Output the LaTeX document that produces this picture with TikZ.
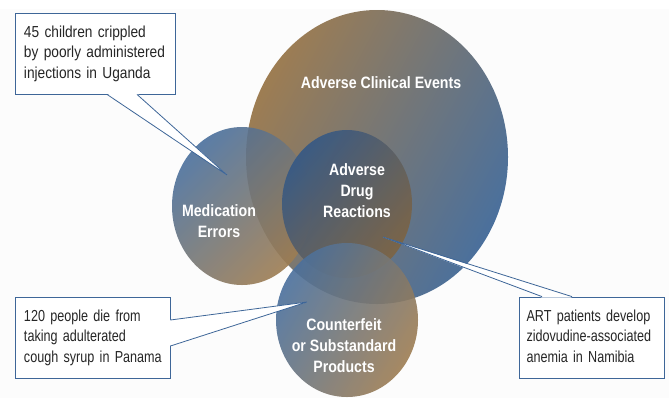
\documentclass[tikz,border=0pt]{standalone}
\usepackage{fontspec}
\setmainfont[FakeStretch=0.86]{Liberation Sans}
\newfontfamily\narrowface[FakeStretch=0.79]{Liberation Sans}
\usetikzlibrary{shapes.geometric,calc}
\definecolor{venbrown}{RGB}{158,125,82}
\definecolor{venblue}{RGB}{74,112,157}
\definecolor{venbluedk}{RGB}{52,88,134}
\definecolor{callblue}{RGB}{62,102,152}
\definecolor{paper}{RGB}{252,252,252}
\newcommand{\calltext}[1]{\begin{tabular}{@{}l@{}}#1\end{tabular}}
\begin{document}
\begin{tikzpicture}[x=1bp,y=-1bp,
    set/.style={ellipse, inner sep=0pt, fill opacity=.9},
    setlabel/.style={text=white, align=center, font=\fontsize{16.5}{21}\selectfont\bfseries},
    callout/.style={draw=callblue, line width=.8pt, fill=white, align=left, text width=#1,
      inner ysep=0pt, minimum height=81bp, text=black!85,
      font=\fontsize{16}{20.5}\selectfont},
    wedge/.style={draw=callblue, line width=.8pt}]
  \useasboundingbox (0,0) rectangle (669,398);
  \fill[paper] (0,9) rectangle (669,398);

  \node[set, minimum width=262bp, minimum height=294bp, top color=venbrown, bottom color=venblue,
    shading angle=62, fill opacity=1] (clinical) at (377,157) {};
  \node[set, minimum width=140bp, minimum height=158bp, top color=venblue, bottom color=venbrown,
    shading angle=45] (errors) at (242,206) {};
  \node[set, minimum width=130bp, minimum height=148bp, top color=venbluedk, bottom color=venbrown!80!black,
    shading angle=50] (drug) at (347,204) {};
  \node[set, minimum width=142bp, minimum height=154bp, top color=venblue, bottom color=venbrown,
    shading angle=60] (fake) at (347,320) {};

  \node[setlabel] (clinicaltext) at (381,83) {Adverse Clinical Events};
  \node[setlabel] (errorstext) at (219,221) {Medication\\Errors};
  \node[setlabel] (drugtext) at (357,191) {Adverse\\Drug\\Reactions};
  \node[setlabel] (faketext) at (344,346) {Counterfeit\\or Substandard\\Products};

  \node[callout=142bp, inner xsep=9bp] (uganda) at (95,53.5)
    {\calltext{45 children crippled\\by poorly administered\\injections in Uganda}};
  \coordinate (ugandatip) at (227,175);
  \fill[white] ($(uganda.south)+(12,-1)$) -- (ugandatip) -- ($(uganda.south)+(42,-1)$) -- cycle;
  \draw[wedge] ($(uganda.south)+(12,0)$) -- (ugandatip) -- ($(uganda.south)+(42,0)$);

  \node[callout=137bp, inner xsep=9bp, font=\fontsize{16}{20.5}\narrowface] (panama) at (92.5,337.5)
    {\calltext{120 people die from\\taking adulterated\\cough syrup in Panama}};
  \coordinate (panamatip) at (307,302);
  \fill[white] ($(panama.east)+(-1,-17.5)$) -- (panamatip) -- ($(panama.east)+(-1,8.5)$) -- cycle;
  \draw[wedge] ($(panama.east)+(0,-17.5)$) -- (panamatip) -- ($(panama.east)+(0,8.5)$);

  \node[callout=131bp, inner xsep=7bp, font=\fontsize{16}{20.5}\narrowface] (namibia) at (592,337.5)
    {\calltext{ART patients develop\\zidovudine-associated\\anemia in Namibia}};
  \coordinate (namibiatip) at (383,237);
  \fill[white] ($(namibia.north)+(-50,1)$) -- (namibiatip) -- ($(namibia.north)+(-20,1)$) -- cycle;
  \draw[wedge] ($(namibia.north)+(-50,0)$) -- (namibiatip) -- ($(namibia.north)+(-20,0)$);
\end{tikzpicture}
\end{document}
